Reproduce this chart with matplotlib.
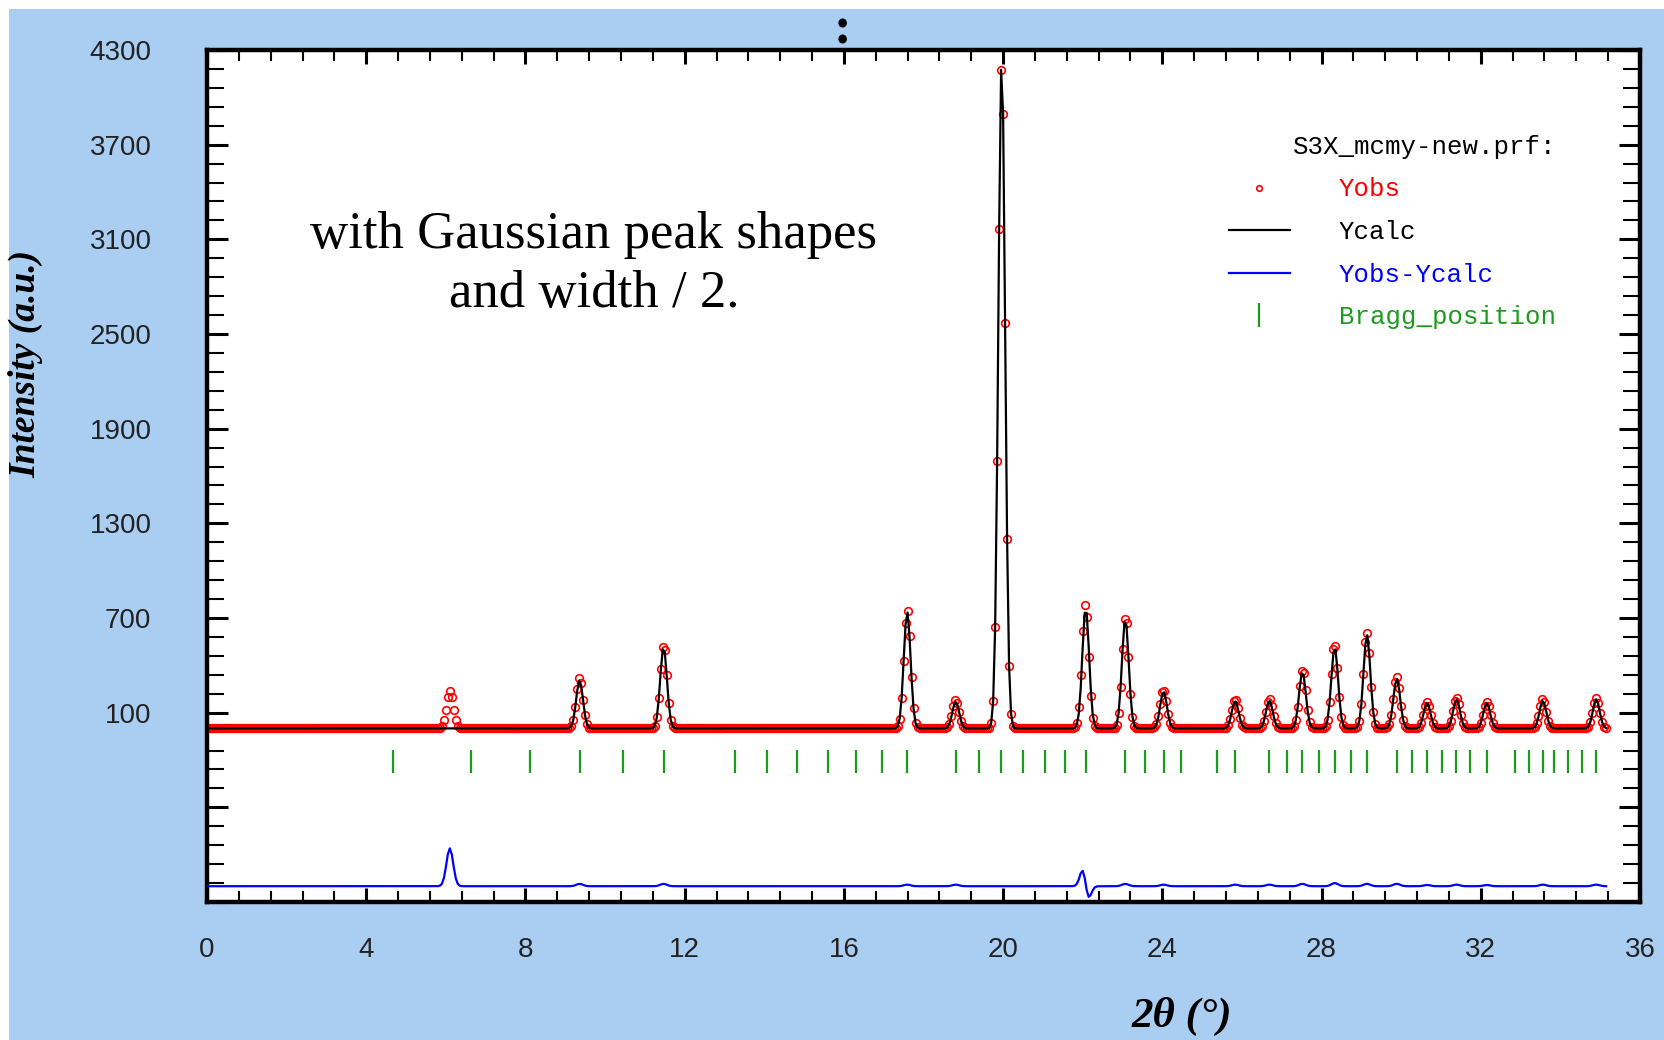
import numpy as np
import matplotlib.pyplot as plt
from matplotlib.lines import Line2D
from matplotlib.patches import Rectangle
from matplotlib.ticker import MultipleLocator, FuncFormatter

# Bragg reflections (2theta, deg)
bragg_pos = [4.68, 6.64, 8.11, 9.36, 10.46, 11.47, 13.27, 14.08, 14.83, 15.59,
             16.30, 16.95, 17.59, 18.81, 19.39, 19.95, 20.50, 21.05, 21.56, 22.07,
             23.07, 23.57, 24.03, 24.47, 25.37, 25.83, 26.69, 27.12, 27.52, 27.93,
             28.33, 28.74, 29.14, 29.89, 30.28, 30.65, 31.03, 31.39, 31.74, 32.15,
             32.85, 33.20, 33.56, 33.85, 34.20, 34.54, 34.90]

# visible peaks: observed position / height and calculated position / height
obs_pos = [6.10, 9.36, 11.47, 17.59, 18.81, 19.965, 22.06, 23.07, 24.03, 25.83,
           26.69, 27.52, 28.33, 29.14, 29.89, 30.65, 31.39, 32.15, 33.56, 34.90]
obs_int = [240, 320, 530, 750, 180, 4240, 790, 710, 245, 185,
           185, 375, 535, 610, 330, 170, 195, 170, 185, 195]
calc_pos = [6.10, 9.36, 11.47, 17.59, 18.81, 19.965, 22.075, 23.07, 24.03, 25.83,
            26.69, 27.52, 28.33, 29.14, 29.89, 30.65, 31.39, 32.15, 33.56, 34.90]
calc_int = [0, 305, 515, 740, 170, 4240, 765, 695, 235, 175,
            175, 360, 515, 595, 315, 162, 185, 162, 175, 185]

fwhm = 0.2          # "Gaussian peak shapes"
step = 0.05
x_end = 35.15
diff_offset = -1000

two_theta = np.arange(0, x_end + step / 2, step)


def profile(pos, hgt):
    y = np.zeros_like(two_theta)
    for p, h in zip(pos, hgt):
        y += h * np.exp(-4 * np.log(2) * (two_theta - p) ** 2 / fwhm ** 2)
    return y


y_obs = profile(obs_pos, obs_int)
y_calc = profile(calc_pos, calc_int)

bg = '#aacdf2'
fig = plt.figure(figsize=(16.65, 10.4), dpi=100)
fig.patch.set_facecolor('white')
fig.add_artist(Rectangle((9 / 1665, 0), 1, 1 - 9 / 1040, transform=fig.transFigure,
                         facecolor=bg, edgecolor='none', zorder=-10))

ax = fig.add_axes([207 / 1665, 1 - 902 / 1040, 1433 / 1665, 852 / 1040])
ax.set_facecolor('white')

ax.plot(two_theta, y_obs, 'o', mfc='none', mec='red', ms=5.5, mew=1.2, zorder=2)
ax.plot(two_theta, y_calc, color='black', lw=1.6, zorder=3)
ax.plot(two_theta, y_obs - y_calc + diff_offset, color='blue', lw=1.6, zorder=3)
ax.vlines(bragg_pos, -280, -135, color='#1c9c1c', lw=1.6, zorder=3)

ax.set_xlim(0, 36)
ax.set_ylim(-1100, 4300)
ax.xaxis.set_major_locator(MultipleLocator(4))
ax.xaxis.set_minor_locator(MultipleLocator(0.8))
ax.yaxis.set_major_locator(MultipleLocator(600, offset=100))
ax.yaxis.set_minor_locator(MultipleLocator(120, offset=100))
ax.yaxis.set_major_formatter(FuncFormatter(lambda v, p: '%d' % round(v) if v >= 99 else ''))

for s in ax.spines.values():
    s.set_linewidth(3.2)
ax.tick_params(axis='both', which='both', direction='in', top=True, right=True,
               labelsize=20, labelcolor='#222222')
ax.tick_params(axis='x', which='major', length=10, width=2.2, pad=25)
ax.tick_params(axis='x', which='minor', length=8, width=1.5)
ax.tick_params(axis='y', which='major', length=15, width=2.2, pad=40)
ax.tick_params(axis='y', which='minor', length=12.5, width=1.5)
for lab in ax.get_xticklabels() + ax.get_yticklabels():
    lab.set_family('Liberation Sans')

ax.set_ylabel('Intensity (a.u.)', family='Liberation Serif', fontsize=27,
              fontweight='bold', fontstyle='italic')
ax.yaxis.set_label_coords(-0.114, 0.632)
ax.set_xlabel('2θ (°)', family='Liberation Serif', fontsize=31,
              fontweight='bold', fontstyle='italic')
ax.xaxis.set_label_coords(0.68, -0.112)

ax.text(0.27, 0.748, 'with Gaussian peak shapes\nand width / 2.', transform=ax.transAxes,
        ha='center', va='center', family='Liberation Serif', fontsize=38,
        linespacing=1.3)

handles = [Line2D([], [], ls='none', marker='o', mfc='none', mec='red', ms=4, mew=1.2),
           Line2D([], [], color='black', lw=1.6),
           Line2D([], [], color='blue', lw=1.6),
           Line2D([], [], ls='none', marker='|', color='#1c9c1c', ms=17, mew=1.6)]
labels = ['Yobs', 'Ycalc', 'Yobs-Ycalc', 'Bragg_position']
leg = ax.legend(handles, labels, title='S3X_mcmy-new.prf:', loc='upper right',
                bbox_to_anchor=(1 - 84 / 1433, 1 - 85 / 852), frameon=False,
                prop={'family': 'Liberation Mono', 'size': 18.5},
                title_fontproperties={'family': 'Liberation Mono', 'size': 18.5},
                labelcolor=['red', 'black', 'blue', '#1c9c1c'],
                alignment='right', handlelength=2.4, handletextpad=1.9,
                labelspacing=0.72, borderpad=0, borderaxespad=0)

fig.text(842 / 1665, 1 - 30 / 1040, ':', ha='center', va='center',
         family='Liberation Serif', fontsize=38, fontweight='bold')

fig.savefig('out.png', dpi=100, facecolor=fig.get_facecolor())
